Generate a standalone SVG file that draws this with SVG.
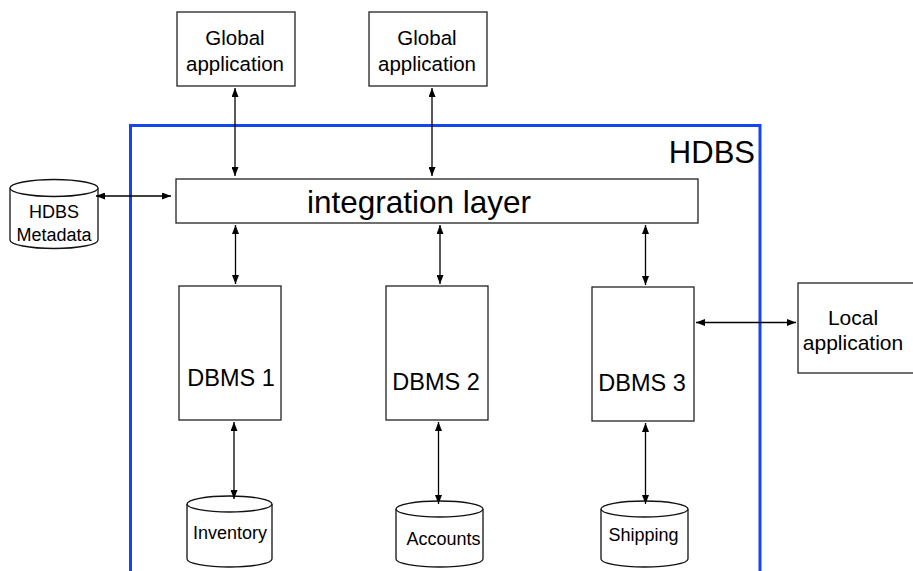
<svg xmlns="http://www.w3.org/2000/svg" width="913" height="571" viewBox="0 0 913 571">
  <defs>
    <marker id="ah" viewBox="0 0 9 7" refX="9" refY="3.5" markerWidth="9" markerHeight="7" markerUnits="userSpaceOnUse" orient="auto-start-reverse">
      <path d="M0,0 L9,3.5 L0,7 Z" fill="#000"/>
    </marker>
  </defs>
  <style>
    .box { fill: #fff; stroke: #222; stroke-width: 1.3; }
    .cyl { fill: #fff; stroke: #111; stroke-width: 1.3; }
    .t { font-family: "Liberation Sans", Arial, sans-serif; fill: #000; text-anchor: middle; }
    .conn line { stroke: #000; stroke-width: 1.3; marker-start: url(#ah); marker-end: url(#ah); }
  </style>
  <rect width="913" height="571" fill="#fff"/>

  <g id="hdbs">
    <path d="M130.5,575 V125.5 H760 V575" fill="none" stroke="#1446f0" stroke-width="3"/>
    <text class="t" x="755" y="163" font-size="31" style="text-anchor:end">HDBS</text>
  </g>

  <g id="global1">
    <rect class="box" x="177" y="12" width="118" height="74"/>
    <text class="t" x="235" y="45" font-size="20.5">Global</text>
    <text class="t" x="235" y="71" font-size="20.5">application</text>
  </g>
  <g id="global2">
    <rect class="box" x="369" y="12" width="118" height="74"/>
    <text class="t" x="427" y="45" font-size="20.5">Global</text>
    <text class="t" x="427" y="71" font-size="20.5">application</text>
  </g>

  <g id="integration">
    <rect class="box" x="176" y="179" width="522" height="44"/>
    <text class="t" x="419" y="213" font-size="31.5">integration layer</text>
  </g>

  <g id="metadata">
    <path class="cyl" d="M10,188 V240 A44,8.5 0 0 0 98,240 V188"/>
    <ellipse class="cyl" cx="54" cy="188" rx="44" ry="8.5"/>
    <text class="t" x="54" y="218" font-size="18">HDBS</text>
    <text class="t" x="54" y="241" font-size="18">Metadata</text>
  </g>

  <g id="dbms1">
    <rect class="box" x="179" y="286" width="102" height="134"/>
    <text class="t" x="231" y="386" font-size="23.5">DBMS 1</text>
  </g>
  <g id="dbms2">
    <rect class="box" x="386" y="286" width="102" height="134"/>
    <text class="t" x="436" y="390" font-size="23.5">DBMS 2</text>
  </g>
  <g id="dbms3">
    <rect class="box" x="592" y="287" width="102" height="134"/>
    <text class="t" x="642" y="391" font-size="23.5">DBMS 3</text>
  </g>

  <g id="local">
    <rect class="box" x="798" y="283" width="120" height="90"/>
    <text class="t" x="853" y="325" font-size="21">Local</text>
    <text class="t" x="853" y="350" font-size="21">application</text>
  </g>

  <g id="inventory">
    <path class="cyl" d="M187,504 V559 A42.5,8 0 0 0 272,559 V504"/>
    <ellipse class="cyl" cx="229.5" cy="504" rx="42.5" ry="8"/>
    <text class="t" x="230" y="539" font-size="18">Inventory</text>
  </g>
  <g id="accounts">
    <path class="cyl" d="M396,509 V559 A43.5,8 0 0 0 483,559 V509"/>
    <ellipse class="cyl" cx="439.5" cy="509" rx="43.5" ry="8"/>
    <text class="t" x="443.5" y="545" font-size="18">Accounts</text>
  </g>
  <g id="shipping">
    <path class="cyl" d="M601,509 V559 A43.5,8 0 0 0 688,559 V509"/>
    <ellipse class="cyl" cx="644.5" cy="509" rx="43.5" ry="8"/>
    <text class="t" x="643.5" y="541" font-size="18">Shipping</text>
  </g>

  <g id="connectors" class="conn">
    <line x1="235" y1="88" x2="235" y2="176"/>
    <line x1="432" y1="88" x2="432" y2="176"/>
    <line x1="96" y1="196" x2="171" y2="196"/>
    <line x1="235.5" y1="225" x2="235.5" y2="284"/>
    <line x1="440" y1="225" x2="440" y2="284"/>
    <line x1="645.5" y1="225" x2="645.5" y2="285"/>
    <line x1="696" y1="322.5" x2="796" y2="322.5"/>
    <line x1="234" y1="422" x2="234" y2="499"/>
    <line x1="438.5" y1="422" x2="438.5" y2="504"/>
    <line x1="645.5" y1="423" x2="645.5" y2="504"/>
  </g>
</svg>
